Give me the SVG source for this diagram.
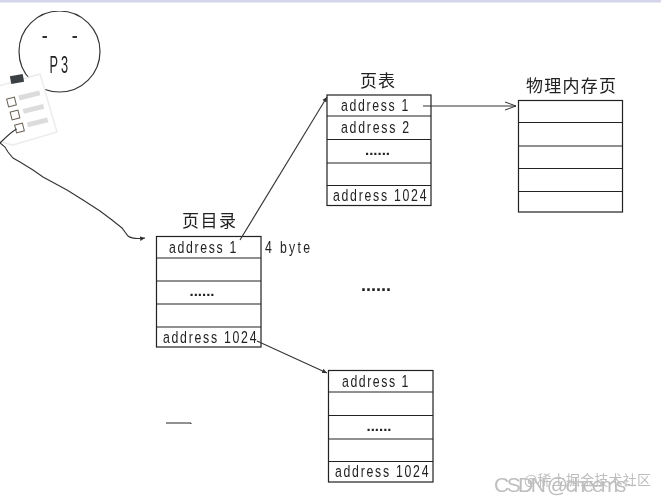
<svg xmlns="http://www.w3.org/2000/svg" width="661" height="503" viewBox="0 0 661 503">
<style>
.box{fill:#fff;stroke:#222;stroke-width:1.2}
.sep{stroke:#222;stroke-width:1.1;fill:none}
.t{font-family:"Liberation Sans",Arial,sans-serif;font-size:15px;fill:#222}
.d{font-family:"Liberation Sans",Arial,sans-serif;font-size:15px;font-weight:bold;fill:#222;text-anchor:middle}
.h{font-family:"Noto Sans CJK SC","Noto Sans",sans-serif;font-size:17px;fill:#222}
.c{fill:none;stroke:#333;stroke-width:1.1}
.cb{fill:#fff;stroke:#6a6256;stroke-width:1}
.bar{fill:#dcdcdc}
</style>
<defs>
<filter id="soft" x="0" y="0" width="100%" height="100%"><feGaussianBlur stdDeviation=".35"/></filter>
<marker id="a" markerWidth="6" markerHeight="6" refX="5" refY="3" orient="auto" markerUnits="userSpaceOnUse"><path d="M0 .6L5 3L0 5.400z" fill="#333"/></marker>
<marker id="o" markerWidth="12" markerHeight="10" refX="11" refY="5" orient="auto" markerUnits="userSpaceOnUse"><path d="M0 1L11 5L0 9" fill="none" stroke="#333" stroke-width="1"/></marker>
</defs>
<rect width="661" height="503" fill="#fff"/>
<rect width="661" height="2.500" fill="#d4d4ea"/>
<g filter="url(#soft)">
<g id="process">
<circle cx="59.500" cy="51.500" r="40.500" fill="#fff" stroke="#333" stroke-width="1.200"/>
<rect x="42.500" y="36" width="4.500" height="2" fill="#333"/>
<rect x="72.500" y="36" width="4.500" height="2" fill="#333"/>
<text class="t" transform="translate(49.500 72.500) scale(.85 1.6)" textLength="22">P3</text>
</g>
<g id="clipboard">
<polygon points="-8,88 40,74 57,132 13,145 0,142" fill="#fff" stroke="#ececec" stroke-width="1.500"/>
<rect x="10.500" y="75" width="13" height="8" fill="#3a3f44" transform="rotate(-10 17 79)"/>
<rect x="18.500" y="93" width="21.500" height="5" class="bar" transform="rotate(-14 29 95)"/>
<rect x="23" y="106.500" width="21" height="5" class="bar" transform="rotate(-14 33 109)"/>
<rect x="27" y="120" width="21" height="5" class="bar" transform="rotate(-14 37 122)"/>
<rect x="7.500" y="98" width="8" height="8" class="cb" transform="rotate(-14 11.500 102)"/>
<rect x="11" y="111" width="8" height="8" class="cb" transform="rotate(-14 15 115)"/>
<rect x="15.500" y="124" width="8" height="8" class="cb" transform="rotate(-14 19.500 128)"/>
</g>
<g id="directory">
<text class="h" x="182" y="227" textLength="54">页目录</text>
<rect class="box" x="156.500" y="236.500" width="104.500" height="110.500"/>
<path class="sep" d="M157 258H261M157 281H261M157 304H261M157 327H261"/>
<text class="t" transform="translate(169 253) scale(.82 1.15)" textLength="82">address 1</text>
<text class="d" x="202" y="296">......</text>
<text class="t" transform="translate(163 343) scale(.82 1.15)" textLength="114">address 1024</text>
<text class="t" transform="translate(265 253) scale(.82 1.15)" textLength="55">4 byte</text>
</g>
<g id="page-table-1">
<text class="h" x="360" y="87" textLength="35">页表</text>
<rect class="box" x="327" y="95" width="104" height="110.500"/>
<path class="sep" d="M327 116H431M327 139.500H431M327 163H431M327 185.500H431"/>
<text class="t" transform="translate(341 111) scale(.82 1.15)" textLength="82">address 1</text>
<text class="t" transform="translate(341 133) scale(.82 1.15)" textLength="83">address 2</text>
<text class="d" x="377.500" y="155">......</text>
<text class="t" transform="translate(333 201) scale(.82 1.15)" textLength="114">address 1024</text>
</g>
<g id="physical-page">
<text class="h" x="526" y="92" textLength="90">物理内存页</text>
<rect class="box" x="518.500" y="100.500" width="104" height="111.500"/>
<path class="sep" d="M519 122.500H622M519 146H622M519 168.500H622M519 191.500H622"/>
</g>
<g id="page-table-2">
<rect class="box" x="328.500" y="370.500" width="104.500" height="111.500"/>
<path class="sep" d="M329 392H433M329 415.500H433M329 439H433M329 461.500H433"/>
<text class="t" transform="translate(342 387) scale(.82 1.15)" textLength="81">address 1</text>
<text class="d" x="379" y="431">......</text>
<text class="t" transform="translate(335 477) scale(.82 1.15)" textLength="114">address 1024</text>
</g>
<g id="connectors">
<path class="c" d="M16.700 129C11 132 5 138 0 143L5 147L8 152L13 158L20 162L33 170L43 177L67 190L83 200L100 211L112 220L122 228L128 236C132 239 138 239 145 238" marker-end="url(#a)"/>
<path class="c" d="M240 240L327 97" marker-end="url(#a)"/>
<path class="c" d="M423 106H516" stroke-width="1.300" marker-end="url(#o)"/>
<path class="c" d="M257 341L327 373" marker-end="url(#a)"/>
</g>
<path id="stray-mark" d="M166 423H191V424" fill="none" stroke="#222" stroke-width="1"/>
<text id="ellipsis" x="361" y="291" font-family="Liberation Sans,Arial,sans-serif" font-size="18" font-weight="bold" fill="#222">......</text>
<g id="watermark" font-family="Liberation Sans,Arial,sans-serif" fill="#a8a8a8" opacity=".75">
<text x="494" y="492" font-size="21" textLength="142">CSDN @cheems~</text>
<text x="524" y="485" font-size="14" font-family="Noto Sans CJK SC,sans-serif" textLength="127">@稀土掘金技术社区</text>
</g>
</g>
</svg>
